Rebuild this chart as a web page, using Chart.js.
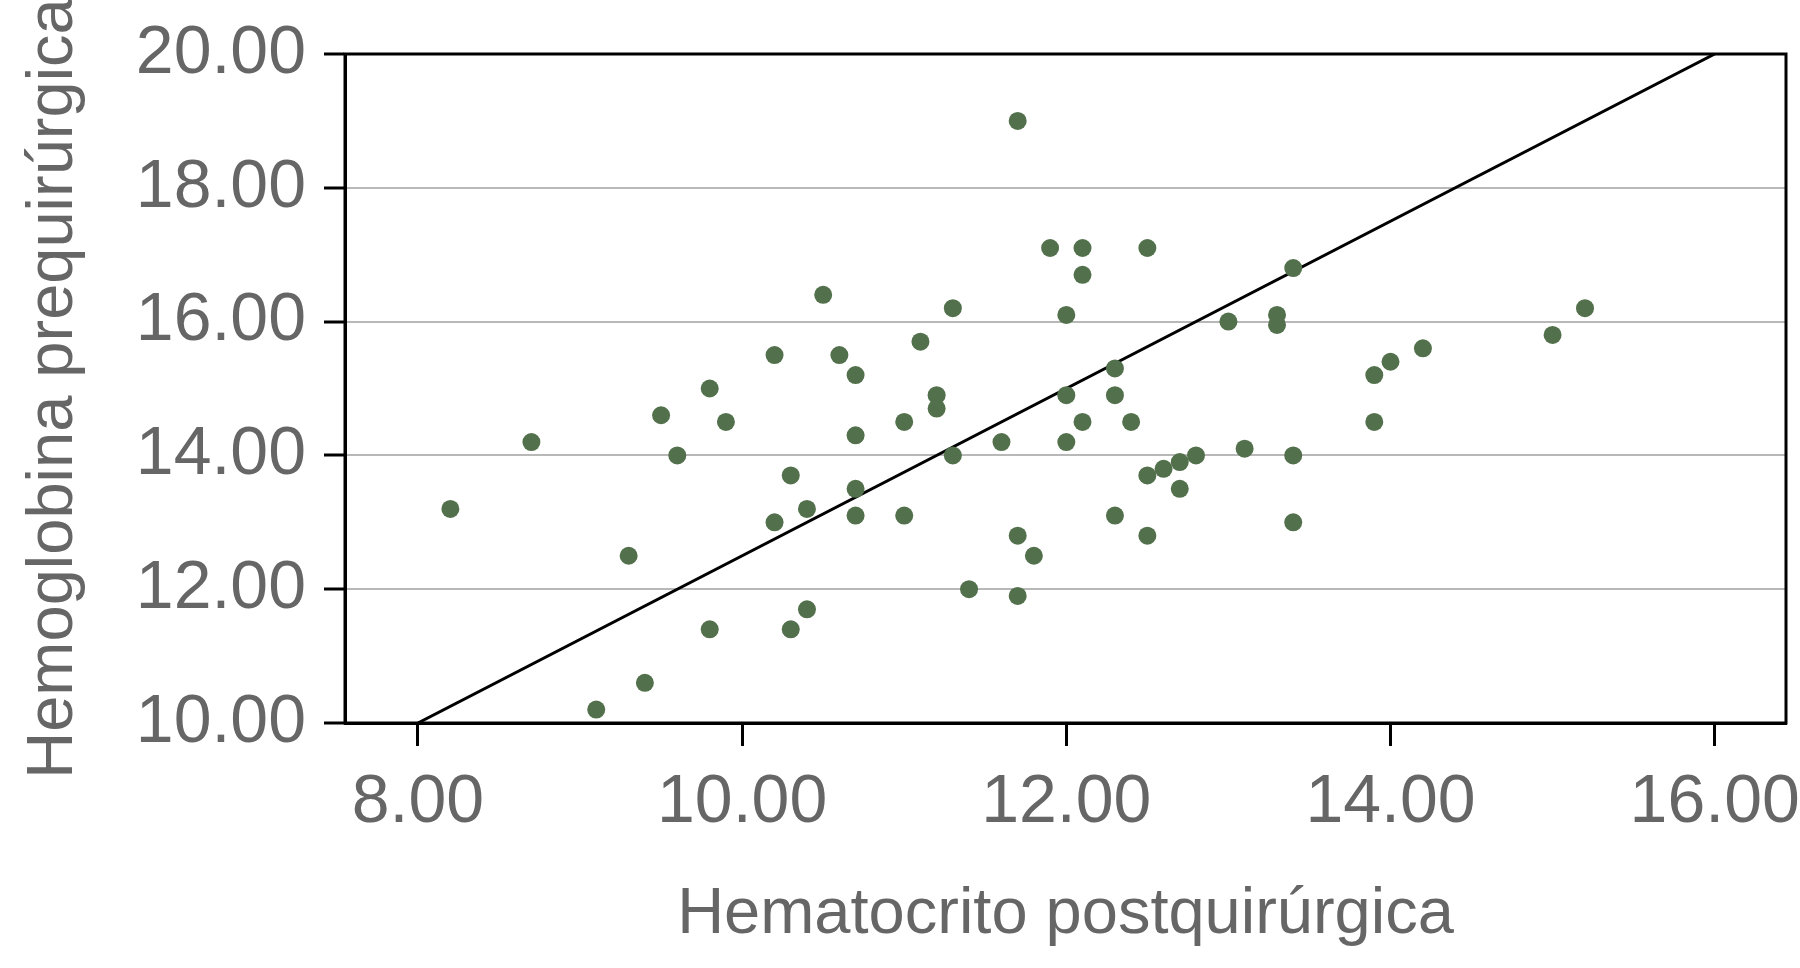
<!DOCTYPE html>
<html><head><meta charset="utf-8">
<script src="https://cdn.jsdelivr.net/npm/chart.js@4.4.0/dist/chart.umd.min.js"></script>
<style>html,body{margin:0;padding:0;background:#fff;}#wrap{width:1800px;height:968px;}</style>
</head><body><div id="wrap"><canvas id="c" width="1800" height="968"></canvas></div>
<script>
const hematocritoPost = [8.2,8.7,9.1,9.3,9.4,9.5,9.6,9.8,9.8,9.9,10.2,10.2,10.3,10.3,10.4,10.4,10.5,10.6,10.7,10.7,10.7,10.7,11.0,11.0,11.1,11.2,11.2,11.3,11.3,11.4,11.6,11.7,11.7,11.7,11.8,11.9,12.0,12.0,12.0,12.1,12.1,12.1,12.3,12.3,12.3,12.4,12.5,12.5,12.5,12.6,12.7,12.7,12.8,13.0,13.1,13.3,13.3,13.4,13.4,13.4,13.9,13.9,14.0,14.2,15.0,15.2];
const hemoglobinaPre = [13.2,14.2,10.2,12.5,10.6,14.6,14.0,15.0,11.4,14.5,15.5,13.0,13.7,11.4,13.2,11.7,16.4,15.5,15.2,14.3,13.5,13.1,14.5,13.1,15.7,14.9,14.7,16.2,14.0,12.0,14.2,19.0,12.8,11.9,12.5,17.1,16.1,14.9,14.2,17.1,16.7,14.5,15.3,14.9,13.1,14.5,17.1,13.7,12.8,13.8,13.9,13.5,14.0,16.0,14.1,16.1,15.95,16.8,14.0,13.0,15.2,14.5,15.4,15.6,15.8,16.2];
const refLineX = [8, 16];
const refLineY = [10, 20];
const xTickValues = [8, 10, 12, 14, 16];
const yTickValues = [10, 12, 14, 16, 18, 20];
const xTitle = 'Hematocrito postquirúrgica';
const yTitle = 'Hemoglobina prequirúrgica';

const FONT = '"Liberation Sans", Arial, Helvetica, sans-serif';
const TEXT = '#666666';

const frame = {
  id: 'frame',
  beforeDatasetsDraw(chart) {
    const {ctx, chartArea: a} = chart;
    ctx.save();
    ctx.strokeStyle = '#000';
    ctx.lineWidth = 3;
    ctx.strokeRect(a.left, a.top, a.right - a.left, a.bottom - a.top);
    ctx.restore();
  }
};

new Chart(document.getElementById('c'), {
  type: 'scatter',
  data: {
    datasets: [
      {
        data: hematocritoPost.map((x, i) => ({x, y: hemoglobinaPre[i]})),
        backgroundColor: '#52704b',
        borderWidth: 0,
        pointRadius: 9,
        order: 0
      },
      {
        data: refLineX.map((x, i) => ({x, y: refLineY[i]})),
        showLine: true,
        borderColor: '#000',
        borderWidth: 3,
        pointRadius: 0,
        order: 1
      }
    ]
  },
  options: {
    responsive: false,
    animation: false,
    devicePixelRatio: 1,
    layout: {padding: {top: 54, right: 14, left: 0, bottom: 0}},
    plugins: {legend: {display: false}, tooltip: {enabled: false}},
    scales: {
      x: {
        type: 'linear',
        min: 7.55,
        max: 16.44,
        afterBuildTicks: s => { s.ticks = xTickValues.map(v => ({value: v})); },
        afterFit: s => { s.height = 245; s.paddingLeft = 0; s.paddingRight = 0; },
        grid: {drawOnChartArea: false, drawTicks: true, tickLength: 23, tickColor: '#000', tickWidth: 3},
        border: {display: true, color: '#000', width: 3},
        ticks: {font: {family: FONT, size: 68}, color: TEXT, padding: 16, maxRotation: 0,
                callback: v => Number(v).toFixed(2)},
        title: {display: true, text: xTitle, color: TEXT, font: {family: FONT, size: 65},
                padding: {top: 0, bottom: 14}}
      },
      y: {
        type: 'linear',
        min: 10,
        max: 20,
        afterBuildTicks: s => { s.ticks = yTickValues.map(v => ({value: v})); },
        afterFit: s => { s.width = 345; s.paddingTop = 0; s.paddingBottom = 0; },
        grid: {color: '#b8b8b8', lineWidth: 2, drawTicks: true, tickLength: 21, tickColor: '#000', tickWidth: 3},
        border: {display: true, color: '#000', width: 3},
        ticks: {font: {family: FONT, size: 68}, color: TEXT, padding: 18,
                callback: v => Number(v).toFixed(2)},
        title: {display: true, text: yTitle, color: TEXT, font: {family: FONT, size: 65},
                padding: {top: 15, bottom: 0}}
      }
    }
  },
  plugins: [frame]
});
</script>
</body></html>
